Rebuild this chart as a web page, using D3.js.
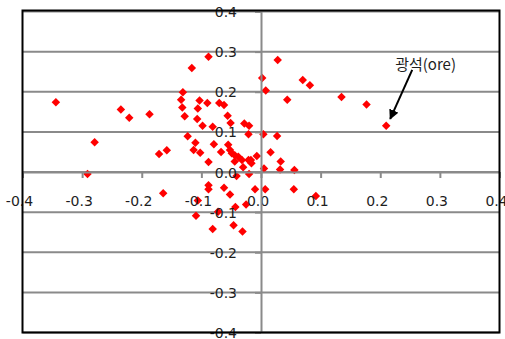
<!DOCTYPE html>
<html>
<head>
<meta charset="utf-8">
<script src="https://cdn.jsdelivr.net/npm/d3@7"></script>
<style>
  html, body { margin: 0; padding: 0; background: #fff; }
  svg { display: block; }
</style>
</head>
<body>
<svg id="chart" width="505" height="339"></svg>
<script>
// ---- data ----
const xValues = [
  -0.344, -0.279, -0.291, -0.235, -0.221, -0.187, -0.171, -0.158, -0.164,
  -0.131, -0.134, -0.132, -0.128, -0.116, -0.088, -0.123, -0.110, -0.113,
  -0.102, -0.106, -0.103, -0.107, -0.098, -0.090, -0.088, -0.081, -0.079,
  -0.070, -0.062, -0.067, -0.056, -0.051, -0.055, -0.052, -0.049, -0.044,
  -0.044, -0.038, -0.032, -0.028, -0.020, -0.021, -0.021, -0.017, -0.016,
  -0.030, -0.007, -0.041, -0.020,
  0.028, 0.002, 0.008, 0.044, 0.070, 0.082, 0.135, 0.177, 0.210,
  0.004, 0.027, 0.016, 0.033, 0.032, 0.005, 0.056,
  -0.106, -0.109, -0.088, -0.088, -0.062, -0.052, -0.043, -0.025, -0.072,
  -0.081, -0.046, -0.031, -0.010, 0.007, 0.055, 0.092
];
const yValues = [
  0.174, 0.074, -0.005, 0.156, 0.135, 0.144, 0.045, 0.054, -0.053,
  0.199, 0.180, 0.161, 0.139, 0.259, 0.287, 0.089, 0.073, 0.055,
  0.048, 0.158, 0.178, 0.132, 0.115, 0.172, 0.025, 0.113, 0.069,
  0.172, 0.167, 0.050, 0.140, 0.122, 0.068, 0.055, 0.047, 0.042,
  0.026, 0.038, 0.030, 0.121, 0.115, 0.094, 0.030, 0.030, 0.022,
  0.012, 0.040, -0.010, -0.005,
  0.279, 0.234, 0.203, 0.180, 0.229, 0.216, 0.187, 0.168, 0.115,
  0.094, 0.090, 0.049, 0.026, 0.006, 0.009, 0.005,
  -0.071, -0.109, -0.033, -0.043, -0.039, -0.056, -0.087, -0.081, -0.099,
  -0.142, -0.133, -0.148, -0.043, -0.043, -0.043, -0.060
];
const xTicks = [-0.4, -0.3, -0.2, -0.1, 0.0, 0.1, 0.2, 0.3, 0.4];
const yTicks = [-0.4, -0.3, -0.2, -0.1, 0.0, 0.1, 0.2, 0.3, 0.4];
const annotationText = "광석(ore)";
const annotationPoint = [0.210, 0.115];

// ---- layout ----
const svg = d3.select("#chart");
const pLeft = 22.5, pRight = 499.5, pTop = 11.5, pBottom = 332.5;
const x = d3.scaleLinear().domain([-0.4, 0.4]).range([pLeft, pRight]);
const y = d3.scaleLinear().domain([-0.4, 0.4]).range([pBottom, pTop]);
const locale = d3.formatLocale({decimal: ".", thousands: ",", grouping: [3], currency: ["", ""], minus: "-"});
const fmt = locale.format(".1f");
const gridColor = "#8a8a8a";
const numFont = "'DejaVu Sans', sans-serif";

// gridlines
svg.append("g").selectAll("line").data(yTicks).join("line")
  .attr("x1", pLeft).attr("x2", pRight)
  .attr("y1", d => y(d)).attr("y2", d => y(d))
  .attr("stroke", gridColor).attr("stroke-width", 2);

// x axis at y=0
const xAxis = svg.append("g")
  .attr("transform", `translate(0,${y(0)})`)
  .call(d3.axisBottom(x).tickValues(xTicks).tickFormat(fmt)
    .tickSize(6).tickSizeOuter(0).tickPadding(18));
xAxis.select(".domain").attr("stroke", gridColor).attr("stroke-width", 2);
xAxis.selectAll(".tick line").attr("stroke", gridColor).attr("stroke-width", 2);
xAxis.selectAll(".tick text")
  .attr("dx", -3.5)
  .style("font-family", numFont).style("font-size", "14px").attr("fill", "#1e1e1e");

// y axis at x=0
const yAxis = svg.append("g")
  .attr("transform", `translate(${x(0)},0)`)
  .call(d3.axisLeft(y).tickValues(yTicks).tickFormat(fmt)
    .tickSize(6).tickSizeOuter(0).tickPadding(18));
yAxis.select(".domain").attr("stroke", gridColor).attr("stroke-width", 2);
yAxis.selectAll(".tick line").attr("stroke", gridColor).attr("stroke-width", 2);
yAxis.selectAll(".tick text")
  .attr("dy", "0.36em")
  .style("font-family", numFont).style("font-size", "14px").attr("fill", "#1e1e1e");

// points (square rotated 45deg = diamond)
const pts = xValues.map((v, i) => [v, yValues[i]]);
const sym = d3.symbol().type(d3.symbolSquare).size(36);
svg.append("g").selectAll("path").data(pts).join("path")
  .attr("d", sym)
  .attr("transform", d => `translate(${x(d[0])},${y(d[1])}) rotate(45)`)
  .attr("fill", "#ff0000");

// raise axis labels above points
xAxis.raise();
yAxis.raise();

// border
svg.append("rect")
  .attr("x", pLeft).attr("y", pTop - 1)
  .attr("width", pRight - pLeft).attr("height", pBottom - pTop + 1)
  .attr("fill", "none").attr("stroke", "#000").attr("stroke-width", 2);

// annotation
const px = x(annotationPoint[0]), py = y(annotationPoint[1]);
svg.append("text")
  .attr("x", px + 9).attr("y", py - 55.5)
  .text(annotationText)
  .style("font-family", "'Noto Sans CJK KR', sans-serif")
  .style("font-size", "15px").attr("fill", "#1e1e1e");

svg.append("defs").append("marker")
  .attr("id", "ah").attr("viewBox", "0 0 10 10")
  .attr("refX", 9).attr("refY", 5)
  .attr("markerWidth", 5).attr("markerHeight", 5)
  .attr("orient", "auto")
  .append("path").attr("d", "M0,0 L10,5 L0,10 z").attr("fill", "#000");

svg.append("line")
  .attr("x1", px + 26).attr("y1", py - 56)
  .attr("x2", px + 4).attr("y2", py - 7)
  .attr("stroke", "#000").attr("stroke-width", 2)
  .attr("marker-end", "url(#ah)");
</script>
</body>
</html>
